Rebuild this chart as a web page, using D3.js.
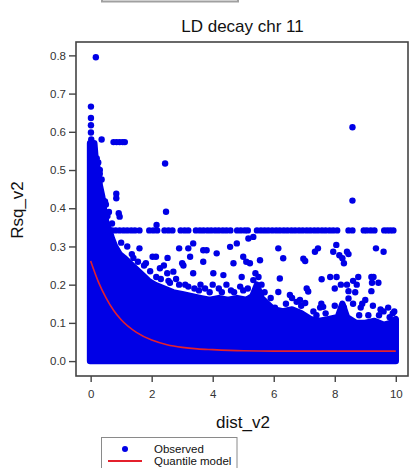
<!DOCTYPE html>
<html>
<head>
<meta charset="utf-8">
<script src="https://cdn.jsdelivr.net/npm/d3@7"></script>
<style>
  body { margin: 0; background: #fff; }
  text { font-family: "Liberation Sans", Arial, sans-serif; }
</style>
</head>
<body>
<svg id="chart"></svg>
<script>
// x ticks / y ticks
var xTicks = [0, 2, 4, 6, 8, 10];
var yTicks = [0, 0.1, 0.2, 0.3, 0.4, 0.5, 0.6, 0.7, 0.8];

// upper edge of the dense cloud of observed points [dist, rsq]
var denseEdge = [[-0.02,0.57],[0.12,0.57],[0.16,0.53],[0.24,0.5],[0.3,0.46],[0.38,0.43],[0.45,0.39],
  [0.52,0.36],[0.6,0.345],[0.7,0.32],[0.8,0.3],[0.95,0.28],[1.1,0.27],[1.3,0.255],[1.5,0.24],
  [1.7,0.225],[1.9,0.21],[2.1,0.2],[2.4,0.19],[2.7,0.18],[3.0,0.175],[3.3,0.17],[3.6,0.165],
  [3.9,0.16],[4.2,0.165],[4.5,0.16],[4.8,0.165],[5.1,0.16],[5.3,0.17],[5.45,0.2],[5.6,0.165],
  [5.8,0.15],[6.0,0.135],[6.3,0.13],[6.6,0.135],[6.9,0.125],[7.2,0.11],[7.5,0.105],[7.8,0.11],
  [8.1,0.115],[8.25,0.15],[8.4,0.115],[8.7,0.1],[9.0,0.1],[9.3,0.105],[9.6,0.095],[9.85,0.1],[10.0,0.11]];

// the row of observations sitting at rsq ~ 0.342
var rowRsq = 0.342;
var rowDist = [0.2,0.32,0.45,0.58,0.7,0.82,0.95,1.08,1.2,1.33,1.45,1.6,1.92,2.05,2.18,2.42,2.55,2.68,
  2.95,3.08,3.2,3.45,3.58,3.7,3.83,3.95,4.08,4.2,4.33,4.45,4.58,4.8,4.92,5.05,5.15,5.45,5.58,5.7,
  5.82,5.95,6.08,6.2,6.33,6.45,6.58,6.7,6.83,6.95,7.08,7.2,7.33,7.45,7.58,7.7,7.83,7.95,8.08,
  8.45,8.58,8.95,9.05,9.18,9.3,9.62,9.72,9.82,9.92];

// scattered observations [dist, rsq]
var observed = [[0.17,0.795],[0.01,0.666],[0.01,0.636],[0.01,0.617],[0.01,0.598],[0.36,0.58],[0.02,0.58],
  [0.75,0.573],[0.85,0.573],[0.95,0.573],[1.05,0.573],[1.12,0.573],[0.05,0.555],[0.1,0.53],[0.2,0.53],
  [0.3,0.49],[0.36,0.475],[0.42,0.42],[0.47,0.418],[0.84,0.438],[0.84,0.426],[0.92,0.387],[0.95,0.378],
  [2.44,0.517],[2.47,0.391],[8.58,0.612],[8.58,0.42],
  [2.16,0.356],[1.6,0.295],[2.03,0.273],[2.14,0.273],[2.52,0.27],[2.9,0.295],[3.2,0.295],[3.0,0.256],
  [2.4,0.25],[2.51,0.23],[1.81,0.256],[3.36,0.308],[3.69,0.29],[3.8,0.29],[4.13,0.282],[4.57,0.299],
  [4.79,0.308],[5.17,0.321],[5.33,0.325],[5.0,0.273],[5.22,0.256],[3.26,0.273],[3.69,0.26],[4.68,0.256],
  [3.04,0.25],[2.71,0.234],[3.36,0.23],[4.02,0.23],[4.35,0.225],[4.95,0.22],[5.33,0.212],[2.27,0.243],
  [5.55,0.264],[5.1,0.26],
  [6.15,0.295],[6.31,0.269],[6.97,0.268],[7.03,0.262],[7.35,0.286],[7.45,0.295],[7.95,0.286],[8.05,0.304],
  [8.15,0.277],[8.25,0.269],[8.3,0.256],[8.4,0.286],[8.45,0.28],[9.35,0.295],[9.6,0.286],
  [6.2,0.216],[6.15,0.181],[6.53,0.173],[6.86,0.16],[7.08,0.19],[7.13,0.182],[7.57,0.214],[7.85,0.22],
  [8.06,0.22],[8.0,0.19],[8.2,0.2],[8.4,0.2],[8.45,0.183],[8.45,0.164],[8.6,0.21],[8.67,0.18],[8.72,0.2],
  [8.77,0.22],[9.2,0.22],[9.27,0.22],[9.22,0.205],[9.2,0.183],[9.43,0.205],[9.0,0.16],[8.9,0.15],
  [9.6,0.13],[9.8,0.115],[6.04,0.14],[5.93,0.133],[7.4,0.12],[7.52,0.14],[6.6,0.165],[6.75,0.155],
  [7.03,0.152],[7.56,0.15],[7.62,0.142],[8.0,0.145],[8.3,0.14],[8.6,0.15],[8.85,0.14],[9.25,0.145],
  [9.5,0.135],[9.75,0.14],[9.9,0.125],
  [3.6,0.2],[3.75,0.19],[4.0,0.2],[4.2,0.19],[4.45,0.2],[4.6,0.185],[4.9,0.195],[5.15,0.19],[5.4,0.23],
  [5.5,0.22],[5.6,0.2],[2.6,0.205],[2.9,0.2],[3.2,0.195],[1.2,0.3],[1.35,0.28],[1.0,0.31],[0.7,0.36],[0.55,0.38],
  [1.4,0.27],[1.55,0.26],[1.75,0.25],[1.95,0.235],[2.15,0.22],[2.3,0.215],[2.55,0.21],[2.8,0.215],
  [3.1,0.2],[3.4,0.19],[3.55,0.185],[3.9,0.18],[4.3,0.18],[4.7,0.18],[5.0,0.185],[5.7,0.18],[5.9,0.165],
  [6.4,0.15],[6.9,0.145],[7.3,0.13],[7.7,0.125],[8.8,0.12],[9.1,0.12],[9.45,0.12],[9.95,0.13],
  [0.5,0.41],[0.6,0.39],[0.25,0.52],[0.3,0.5]];

// quantile model curve
var modelDist = [0, 0.25, 0.5, 0.75, 1.0, 1.5, 2.0, 2.5, 3.0, 3.5, 4.0, 5.0, 6.0, 8.0, 10.0];
var modelRsq  = [0.262, 0.208, 0.166, 0.133, 0.108, 0.075, 0.055, 0.043, 0.036, 0.032, 0.03, 0.027, 0.026, 0.026, 0.026];

var width = 411, height = 468;
var blue = "#0000e6", red = "#e4202c";

var svg = d3.select("#chart").attr("width", width).attr("height", height);

var margins = { top: 42, bottom: 92, left: 76, right: 3 };

var xScale = d3.scaleLinear()
               .domain([-0.48, 10.4])
               .range([margins.left, width - margins.right]);

var yScale = d3.scaleLinear()
               .domain([-0.039, 0.835])
               .range([height - margins.bottom, margins.top]);

// bits of a legend box cut off at the top
svg.append("rect")
   .attr("x", 102).attr("y", -10).attr("width", 136).attr("height", 11.5)
   .attr("fill", "none").attr("stroke", "#a0a0a0").attr("stroke-width", 2);

var plotLand = svg.append("g").classed("plot", true);

// dense cloud
var area = d3.area()
             .x(function(d){ return xScale(d[0]); })
             .y0(yScale(0))
             .y1(function(d){ return yScale(d[1]); });

plotLand.append("path")
        .datum(denseEdge)
        .attr("d", area)
        .attr("fill", blue)
        .attr("stroke", blue)
        .attr("stroke-width", 6.4)
        .attr("stroke-linejoin", "round");

plotLand.selectAll("circle.row")
        .data(rowDist)
        .enter()
        .append("circle")
        .classed("row", true)
        .attr("cx", function(d){ return xScale(d); })
        .attr("cy", yScale(rowRsq))
        .attr("r", 3.2)
        .attr("fill", blue);

plotLand.selectAll("circle.obs")
        .data(observed)
        .enter()
        .append("circle")
        .classed("obs", true)
        .attr("cx", function(d){ return xScale(d[0]); })
        .attr("cy", function(d){ return yScale(d[1]); })
        .attr("r", 3.2)
        .attr("fill", blue);

var line = d3.line()
             .curve(d3.curveMonotoneX)
             .x(function(d, i){ return xScale(modelDist[i]); })
             .y(function(d){ return yScale(d); });

plotLand.append("path")
        .datum(modelRsq)
        .attr("d", line)
        .attr("fill", "none")
        .attr("stroke", red)
        .attr("stroke-width", 1.6);

// box
svg.append("rect")
   .attr("x", margins.left).attr("y", margins.top)
   .attr("width", width - margins.right - margins.left)
   .attr("height", height - margins.bottom - margins.top)
   .attr("fill", "none").attr("stroke", "#444").attr("stroke-width", 1.6);

var xAxis = svg.append("g")
   .attr("transform", "translate(0," + (height - margins.bottom) + ")")
   .call(d3.axisBottom(xScale).tickValues(xTicks).tickSize(6).tickPadding(8));

var yAxis = svg.append("g")
   .attr("transform", "translate(" + margins.left + ",0)")
   .call(d3.axisLeft(yScale).tickValues(yTicks).tickFormat(d3.format(".1f")).tickSize(7).tickPadding(3));

[xAxis, yAxis].forEach(function(g){
  g.select(".domain").remove();
  g.selectAll(".tick line").attr("stroke", "#444").attr("stroke-width", 1.4);
  g.selectAll(".tick text").attr("fill", "#333").style("font-size", "11.5px")
   .style("font-family", "'Liberation Sans', Arial, sans-serif");
});

svg.append("text")
   .attr("x", 242.5).attr("y", 32)
   .attr("text-anchor", "middle").style("font-size", "17px").attr("fill", "#111")
   .text("LD decay chr 11");

svg.append("text")
   .attr("x", 243).attr("y", 428)
   .attr("text-anchor", "middle").style("font-size", "17px").attr("fill", "#111")
   .text("dist_v2");

svg.append("text")
   .attr("transform", "translate(23," + 210 + ") rotate(-90)")
   .attr("text-anchor", "middle").style("font-size", "17px").attr("fill", "#111")
   .text("Rsq_v2");

// legend
var legend = svg.append("g");
legend.append("rect")
      .attr("x", 101.5).attr("y", 437.5).attr("width", 135.5).attr("height", 40)
      .attr("fill", "#fff").attr("stroke", "#8a8a8a").attr("stroke-width", 1);
legend.append("circle").attr("cx", 125).attr("cy", 449).attr("r", 3).attr("fill", blue);
legend.append("line").attr("x1", 108).attr("x2", 142).attr("y1", 461).attr("y2", 461)
      .attr("stroke", red).attr("stroke-width", 2);
legend.append("text").attr("x", 154).attr("y", 452.5).style("font-size", "11.5px").attr("fill", "#111")
      .text("Observed");
legend.append("text").attr("x", 154).attr("y", 464.5).style("font-size", "11.5px").attr("fill", "#111")
      .text("Quantile model");
</script>
</body>
</html>
